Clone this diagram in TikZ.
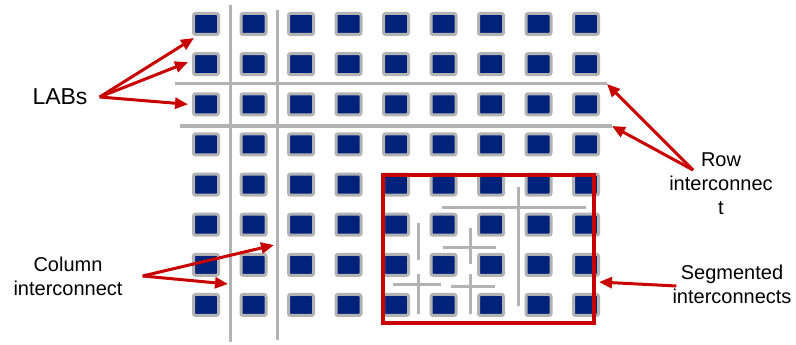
\documentclass[tikz,border=0pt]{standalone}
\usepackage{fontspec}
\setmainfont{Liberation Sans}
\usetikzlibrary{arrows.meta}

\definecolor{labblue}{HTML}{00227A}
\definecolor{wiregray}{HTML}{B3B3B3}
\definecolor{arrowred}{HTML}{C80000}

\tikzset{
    lab/.style={rectangle, draw=wiregray, line width=3pt, fill=labblue,
        rounded corners=2pt, minimum width=25pt, minimum height=21pt, inner sep=0pt},
    wire/.style={wiregray, line width=3pt},
    pointer/.style={arrowred, line width=3pt, -{Triangle[length=13pt,width=11pt]}},
    lbltext/.style={align=center, font=\fontsize{20}{24}\selectfont, inner sep=0pt}
}

\begin{document}
\begin{tikzpicture}[x=1pt, y=-1pt]
    \useasboundingbox (0,0) rectangle (796,345);

    % Linee di interconnessione
    \draw[wire] (230,5) -- (230,342);
    \draw[wire] (277,10) -- (277,340);
    \draw[wire] (175,84) -- (607,84);
    \draw[wire] (180,126) -- (612,126);

    % Blocchi LAB
    \foreach \c in {0,...,8} {
        \foreach \r in {0,...,7} {
            \node[lab] (lab-\c-\r) at ({206+47.5*\c},{24+40.14*\r}) {};
        }
    }

    % Interconnessioni segmentate
    \draw[wire] (442,207) -- (586,207);
    \draw[wire] (518,187) -- (518,306);
    \draw[wire] (418,223) -- (418,260);
    \draw[wire] (443,247) -- (496,247);
    \draw[wire] (470,228) -- (470,264);
    \draw[wire] (393,284) -- (441,284);
    \draw[wire] (418,274) -- (418,314);
    \draw[wire] (451,286) -- (495,286);
    \draw[wire] (470,274) -- (470,314);

    \draw[arrowred, line width=4pt] (383,175) rectangle (594,323);

    % Etichette
    \node[lbltext, font=\fontsize{23}{26}\selectfont] (labs) at (60,97) {LABs};
    \node[lbltext] (rowlbl) at (721,184) {Row\\interconnec\\t};
    \node[lbltext] (collbl) at (68,276) {Column\\interconnect};
    \node[lbltext] (seglbl) at (732,284) {Segmented\\interconnects};

    % Punte delle frecce
    \coordinate (rowsrc) at (693,170);
    \coordinate (rowtip1) at (607,84);
    \coordinate (rowtip2) at (612,126);
    \coordinate (coltip1) at (274,245);
    \coordinate (coltip2) at (228,284);

    % Frecce
    \draw[pointer] ([xshift=12pt]labs.east) -- ([shift={(2pt,-2pt)}]lab-0-0.south west);
    \draw[pointer] ([xshift=12pt]labs.east) -- ([shift={(-4pt,2pt)}]lab-0-1.west);
    \draw[pointer] ([xshift=12pt]labs.east) -- ([xshift=-4pt]lab-0-2.west);
    \draw[pointer] (rowsrc) -- (rowtip1);
    \draw[pointer] (rowsrc) -- (rowtip2);
    \draw[pointer] ([xshift=20pt]collbl.east) -- (coltip1);
    \draw[pointer] ([xshift=20pt]collbl.east) -- (coltip2);
    \draw[pointer] ([shift={(4pt,-2pt)}]seglbl.west) -- (599,282);
\end{tikzpicture}
\end{document}
